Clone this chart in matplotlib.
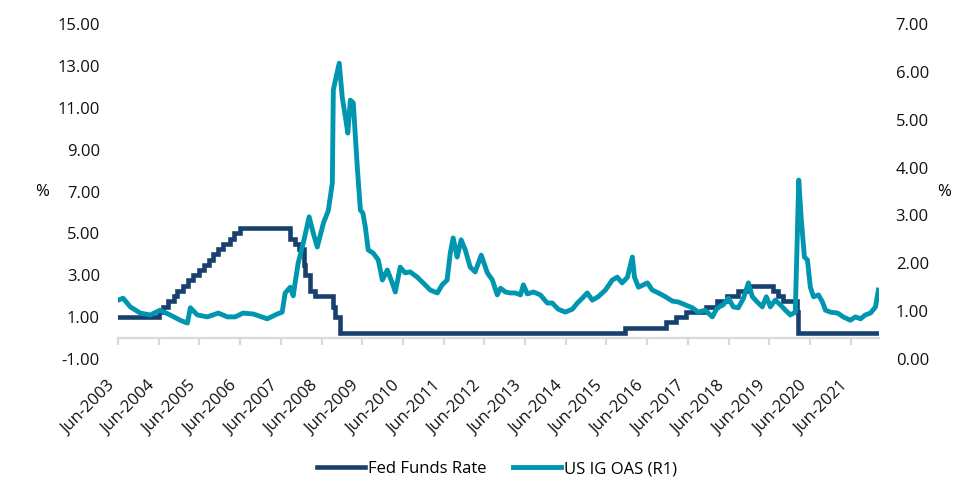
import matplotlib
matplotlib.use('Agg')
import matplotlib.pyplot as plt
import pandas as pd

# fed funds target (upper bound), step changes
fed_dates = ['2003-06-30', '2004-06-30', '2004-08-10', '2004-09-21', '2004-11-10', '2004-12-14',
             '2005-02-02', '2005-03-22', '2005-05-03', '2005-06-30', '2005-08-09', '2005-09-20',
             '2005-11-01', '2005-12-13', '2006-01-31', '2006-03-28', '2006-05-10', '2006-06-29',
             '2007-09-18', '2007-10-31', '2007-12-11', '2008-01-22', '2008-01-30', '2008-03-18',
             '2008-04-30', '2008-10-08', '2008-10-29', '2008-12-16', '2015-12-16', '2016-12-14',
             '2017-03-15', '2017-06-14', '2017-12-13', '2018-03-21', '2018-06-13', '2018-09-26',
             '2018-12-19', '2019-07-31', '2019-09-18', '2019-10-30', '2020-03-03', '2020-03-15',
             '2022-03-10']
fed_rate = [1.00, 1.25, 1.50, 1.75, 2.00, 2.25,
            2.50, 2.75, 3.00, 3.25, 3.50, 3.75,
            4.00, 4.25, 4.50, 4.75, 5.00, 5.25,
            4.75, 4.50, 4.25, 3.50, 3.00, 2.25,
            2.00, 1.50, 1.00, 0.25, 0.50, 0.75,
            1.00, 1.25, 1.50, 1.75, 2.00, 2.25,
            2.50, 2.25, 2.00, 1.75, 1.25, 0.25,
            0.25]

# US IG OAS (right axis)
oas_dates = ['2003-07-01', '2003-08-15', '2003-10-18', '2004-01-15', '2004-04-15', '2004-07-12',
             '2004-10-10', '2005-01-08', '2005-03-14', '2005-04-09', '2005-06-11', '2005-09-09',
             '2005-12-16', '2006-03-07', '2006-05-16', '2006-07-27', '2006-10-26', '2007-02-28',
             '2007-05-29', '2007-07-12', '2007-08-08', '2007-09-23', '2007-10-19', '2007-12-02',
             '2008-01-17', '2008-03-10', '2008-04-16', '2008-05-22', '2008-07-16', '2008-08-29',
             '2008-10-04', '2008-10-13', '2008-11-01', '2008-12-05', '2009-01-01', '2009-01-29',
             '2009-02-20', '2009-03-15', '2009-04-10', '2009-05-16', '2009-06-13', '2009-07-05',
             '2009-07-27', '2009-08-22', '2009-10-07', '2009-11-20', '2009-12-27', '2010-02-09',
             '2010-03-26', '2010-04-22', '2010-06-05', '2010-07-19', '2010-09-02', '2010-11-05',
             '2010-12-28', '2011-03-02', '2011-05-04', '2011-06-17', '2011-07-31', '2011-08-28',
             '2011-09-23', '2011-10-29', '2011-12-04', '2012-01-10', '2012-02-23', '2012-04-08',
             '2012-06-01', '2012-07-26', '2012-09-09', '2012-10-23', '2012-11-21', '2013-01-04',
             '2013-02-18', '2013-04-03', '2013-05-19', '2013-06-14', '2013-07-20', '2013-09-12',
             '2013-11-13', '2014-01-15', '2014-02-28', '2014-04-23', '2014-06-25', '2014-08-27',
             '2014-10-12', '2014-11-25', '2015-01-08', '2015-02-23', '2015-04-16', '2015-06-20',
             '2015-08-21', '2015-10-04', '2015-11-17', '2016-01-04', '2016-02-17', '2016-03-07',
             '2016-04-12', '2016-05-26', '2016-07-01', '2016-08-14', '2016-10-08', '2016-12-10',
             '2017-02-10', '2017-04-05', '2017-06-06', '2017-08-08', '2017-10-01', '2017-12-02',
             '2018-02-03', '2018-03-20', '2018-05-11', '2018-06-28', '2018-08-11', '2018-09-25',
             '2018-11-10', '2018-12-24', '2019-01-29', '2019-03-14', '2019-04-28', '2019-06-03',
             '2019-07-09', '2019-08-22', '2019-10-08', '2019-11-21', '2020-01-05', '2020-02-18',
             '2020-03-20', '2020-04-12', '2020-05-10', '2020-06-06', '2020-07-02', '2020-07-31',
             '2020-09-13', '2020-10-19', '2020-11-15', '2020-12-29', '2021-03-03', '2021-04-23',
             '2021-06-26', '2021-08-11', '2021-09-25', '2021-11-07', '2021-12-24', '2022-02-07',
             '2022-03-04']
oas_vals = [1.23, 1.27, 1.09, 0.96, 0.92, 1.02,
            0.92, 0.81, 0.75, 1.07, 0.92, 0.88,
            0.96, 0.88, 0.88, 0.96, 0.94, 0.84,
            0.94, 0.98, 1.38, 1.50, 1.32, 2.00,
            2.42, 2.97, 2.63, 2.34, 2.84, 3.10,
            3.68, 5.62, 5.83, 6.18, 5.47, 5.06,
            4.72, 5.41, 5.35, 4.01, 3.11, 3.05,
            2.76, 2.28, 2.21, 2.07, 1.65, 1.86,
            1.59, 1.40, 1.92, 1.80, 1.82, 1.71,
            1.59, 1.44, 1.38, 1.55, 1.65, 2.21,
            2.53, 2.13, 2.49, 2.28, 1.92, 1.82,
            2.17, 1.80, 1.65, 1.34, 1.48, 1.40,
            1.38, 1.38, 1.34, 1.55, 1.36, 1.40,
            1.34, 1.17, 1.17, 1.04, 0.98, 1.04,
            1.17, 1.27, 1.38, 1.23, 1.30, 1.44,
            1.65, 1.71, 1.59, 1.71, 2.13, 1.71,
            1.50, 1.55, 1.59, 1.44, 1.38, 1.30,
            1.21, 1.19, 1.13, 1.07, 0.98, 1.02,
            0.88, 1.07, 1.13, 1.27, 1.09, 1.07,
            1.27, 1.59, 1.30, 1.19, 1.09, 1.30,
            1.09, 1.23, 1.13, 1.02, 0.92, 0.98,
            3.74, 2.90, 2.13, 2.07, 1.50, 1.30,
            1.34, 1.19, 1.02, 0.98, 0.96, 0.88,
            0.81, 0.88, 0.84, 0.92, 0.96, 1.09,
            1.44]

tick_years = list(range(2003, 2022))

navy = '#17406e'
teal = '#0096b0'
grey = '#d9d9d9'

plt.rcParams['font.family'] = ['Open Sans', 'DejaVu Sans']
plt.rcParams['font.size'] = 12

fig = plt.figure(figsize=(9.63, 4.91), dpi=100)
ax = fig.add_axes([118 / 963, 1 - 359 / 491, 761 / 963, 335 / 491])
ax2 = ax.twinx()

fed_x = pd.to_datetime(fed_dates)
oas_x = pd.to_datetime(oas_dates)

ax.plot(fed_x, fed_rate, color=navy, lw=3.3, drawstyle='steps-post',
        solid_joinstyle='miter', label='Fed Funds Rate')
ax2.plot(oas_x, oas_vals, color=teal, lw=3.5, solid_joinstyle='round',
         label='US IG OAS (R1)')

ax.set_xlim(pd.Timestamp('2003-06-30'), pd.Timestamp('2022-03-10'))
ax.set_ylim(-1, 15)
ax2.set_ylim(0, 7)
ax.set_yticks(range(-1, 16, 2))
ax2.set_yticks(range(0, 8))
ax.yaxis.set_major_formatter(matplotlib.ticker.FormatStrFormatter('%.2f'))
ax2.yaxis.set_major_formatter(matplotlib.ticker.FormatStrFormatter('%.2f'))

ticks = [pd.Timestamp(f'{y}-06-30') for y in tick_years]
ax.set_xticks(ticks)
ax.set_xticklabels([f'Jun-{y}' for y in tick_years])

for s in ['top', 'left', 'right']:
    ax.spines[s].set_visible(False)
for s in ax2.spines.values():
    s.set_visible(False)
ax.spines['bottom'].set_position(('data', 0))
ax.spines['bottom'].set_color(grey)
ax.spines['bottom'].set_linewidth(1.6)
ax.spines['bottom'].set_zorder(0)

ax.tick_params(axis='x', direction='out', length=5, width=1.6, color=grey, pad=24,
               labelsize=12, labelcolor='#111111', labelrotation=45)
for lbl in ax.get_xticklabels():
    lbl.set_horizontalalignment('right')
ax.tick_params(axis='y', length=0, pad=13, labelcolor='#111111')
ax2.tick_params(axis='y', length=0, pad=12, labelcolor='#111111')

ax.set_ylabel('%', rotation=0, va='center', ha='center')
ax.yaxis.set_label_coords(-0.1, 0.5)
ax2.set_ylabel('%', rotation=0, va='center', ha='center')
ax2.yaxis.set_label_coords(1.085, 0.5)

h1, l1 = ax.get_legend_handles_labels()
h2, l2 = ax2.get_legend_handles_labels()
fig.legend(h1 + h2, l1 + l2, loc='center', bbox_to_anchor=(497 / 963, 1 - 469 / 491),
           ncol=2, frameon=False, handlelength=2.9, handletextpad=0.15,
           columnspacing=1.6, fontsize=12)

fig.savefig('out.png', dpi=100)
